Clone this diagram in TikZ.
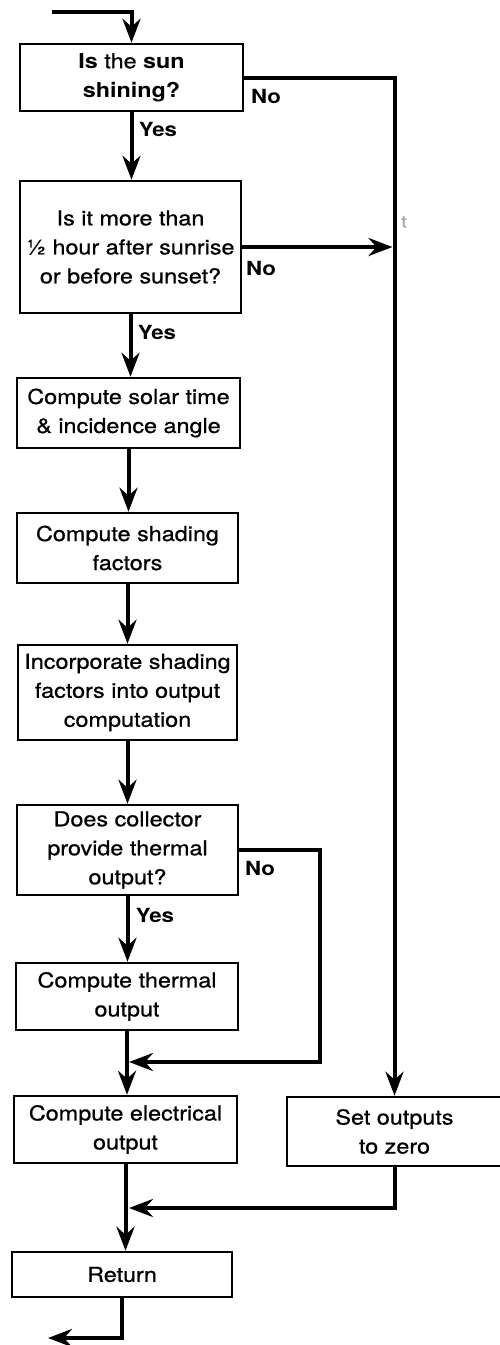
\documentclass[tikz,border=0pt]{standalone}
\usepackage{fontspec}
\setmainfont{TeX Gyre Heros}[FakeStretch=1.14, UprightFeatures={FakeBold=0.8}]
\usetikzlibrary{arrows.meta}
\tikzset{
  box/.style={draw, line width=2.5pt, inner sep=0pt, align=center, font=\fontsize{20.5}{29}\selectfont},
  conn/.style={line width=4pt},
  arr/.style={conn, -{Stealth[length=24pt,width=18pt,inset=8pt]}},
  lbl/.style={font=\bfseries\fontsize{19.5}{22}\selectfont, inner sep=0pt},
}
\begin{document}
\begin{tikzpicture}[x=1pt,y=-1pt]
\useasboundingbox (0,0) rectangle (499,1345);
% boxes
\node[box,minimum width=223pt,minimum height=67pt] (b1) at (131.5,77.5) {\textbf{Is} the \textbf{sun}\\\textbf{shining?}};
\node[box,minimum width=221pt,minimum height=132pt] (b2) at (130.5,247) {Is it more than\\½ hour after sunrise\\or before sunset?};
\node[box,minimum width=223pt,minimum height=70pt] (b3) at (128.5,413) {Compute solar time\\\& incidence angle};
\node[box,minimum width=221pt,minimum height=70pt] (b4) at (127.5,548) {Compute shading\\factors};
\node[box,minimum width=219pt,minimum height=95pt] (b5) at (127.5,692.5) {Incorporate shading\\factors into output\\computation};
\node[box,minimum width=221pt,minimum height=90pt] (b6) at (127.5,850) {Does collector\\provide thermal\\output?};
\node[box,minimum width=222pt,minimum height=67pt] (b7) at (127,996.5) {Compute thermal\\output};
\node[box,minimum width=223pt,minimum height=67pt] (b8) at (125.5,1129.5) {Compute electrical\\output};
\node[box,minimum width=215pt,minimum height=69pt] (b9) at (394.5,1131.5) {Set outputs\\to zero};
\node[box,minimum width=220pt,minimum height=45pt] (b10) at (122,1274.5) {Return};
% labels
\node[lbl] (n1) at (266,96.5) {No};
\node[lbl] (y1) at (158,129.5) {Yes};
\node[lbl] (n2) at (261,268) {No};
\node[lbl] (y2) at (157,332) {Yes};
\node[lbl] (n3) at (260,868) {No};
\node[lbl] (y3) at (155,915) {Yes};
\node[font=\fontsize{17}{17}\selectfont, text=gray!70, inner sep=0pt] (st) at (404,222) {t};
% coordinates
\coordinate (in) at (52,12);
\coordinate (j1) at (320,1062);
\coordinate (j2) at (127,1208);
\coordinate (out) at (48,1338);
% connectors
\draw[arr] (in) -| (b1.north);
\draw[arr] (b1.south) -- (b1.south |- b2.north);
\draw[arr] (b2.south) -- (b2.south |- b3.north);
\draw[arr] (b3.south) -- (b3.south |- b4.north);
\draw[arr] (b4.south) -- (b4.south |- b5.north);
\draw[arr] (b5.south) -- (b5.south |- b6.north);
\draw[arr] (b6.south) -- (b6.south |- b7.north);
\draw[arr] (b7.south) -- (b7.south |- b8.north);
\draw[arr] (b8.south) -- (b8.south |- b10.north);
\draw[arr] (b10.south) |- (out);
\draw[arr] (b1.east) -| (b9.north);
\draw[arr] (b2.east) -- ([xshift=-2pt]b2.east -| b9.north);
\draw[arr] (b6.east) -| (j1) -- ([xshift=2pt]j1 -| b7.south);
\draw[arr] (b9.south) |- ([xshift=2pt]j2);
\end{tikzpicture}
\end{document}
